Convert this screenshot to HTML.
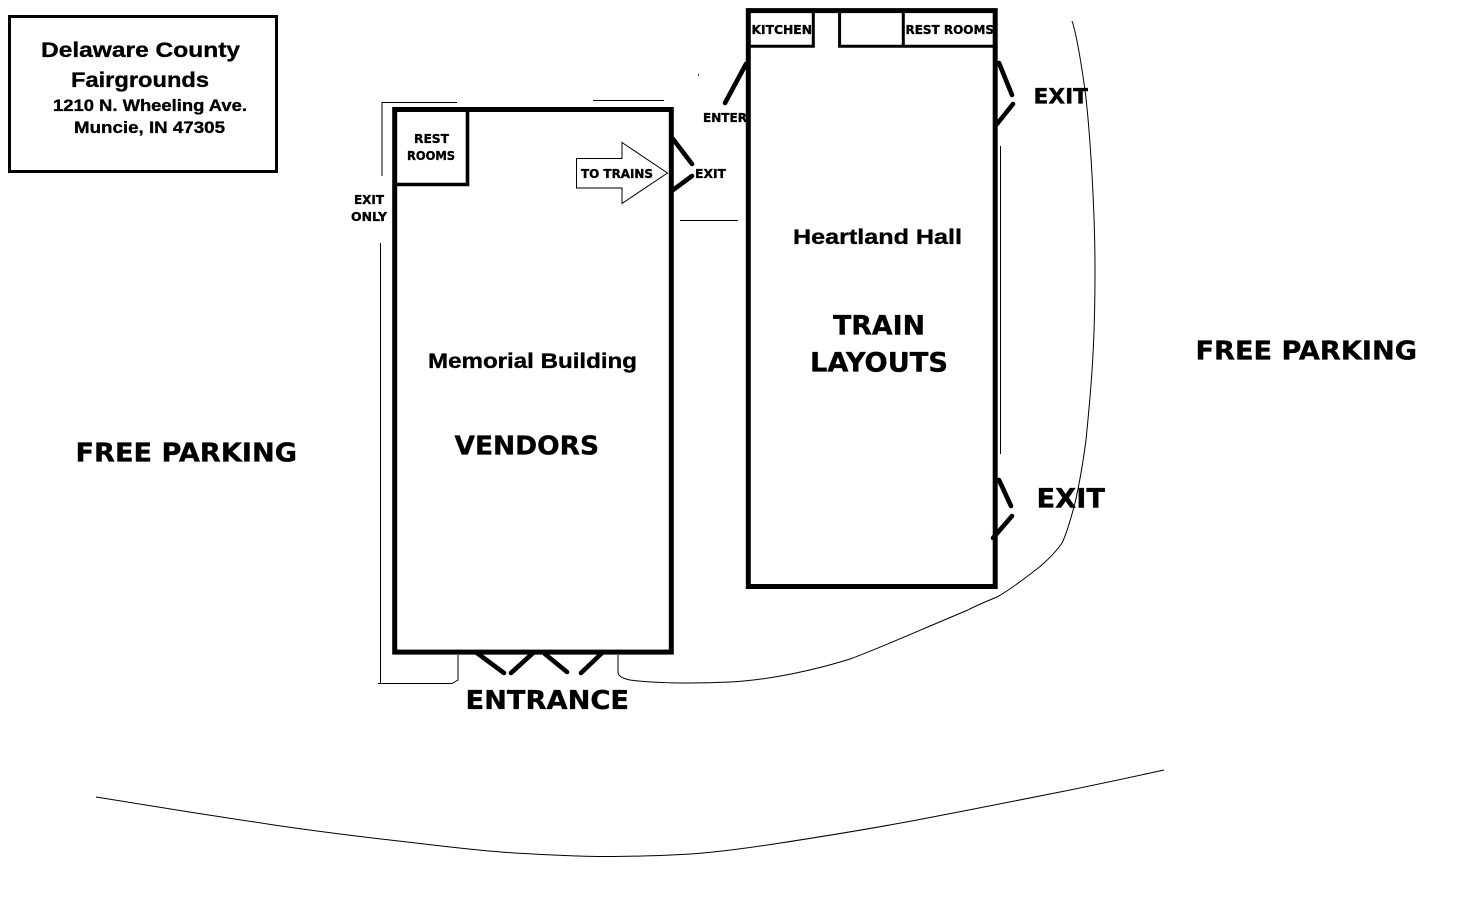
<!DOCTYPE html>
<html><head><meta charset="utf-8"><style>
html,body{margin:0;padding:0;background:#fff;width:1480px;height:909px;overflow:hidden}
svg{display:block}
text{fill:#000;font-weight:bold;stroke:#000;stroke-width:.35}
.d{font-family:"DejaVu Sans",sans-serif}
.l{font-family:"Liberation Sans",sans-serif}
.w{fill:none;stroke:#000}
.t{fill:none;stroke:#000;stroke-width:1}
.r{fill:none;stroke:#000;stroke-width:4.6;stroke-linecap:round}
</style></head><body>
<svg width="1480" height="909" viewBox="0 0 1480 909" xmlns="http://www.w3.org/2000/svg">
<rect x="9.5" y="16.5" width="267" height="155" class="w" stroke-width="3"/>
<text class="l" x="41" y="57" font-size="21.5" textLength="199" lengthAdjust="spacingAndGlyphs">Delaware County</text>
<text class="l" x="71" y="87" font-size="21.5" textLength="138" lengthAdjust="spacingAndGlyphs">Fairgrounds</text>
<text class="l" x="53" y="111" font-size="17" textLength="194" lengthAdjust="spacingAndGlyphs">1210 N. Wheeling Ave.</text>
<text class="l" x="74" y="133" font-size="17" textLength="151" lengthAdjust="spacingAndGlyphs">Muncie, IN 47305</text>

<rect x="394.7" y="109.5" width="276.6" height="542.6" class="w" stroke-width="5"/>
<path d="M395 184.5H467.5V110" class="w" stroke-width="3.6"/>
<rect x="748.3" y="10.6" width="246.9" height="575.9" class="w" stroke-width="5"/>
<path d="M750 46.3H813.3V12M997 46.3H839.6V12M903.3 12V46" class="w" stroke-width="3"/>

<path d="M576.5 158.5H622V142.5L667.5 173L622 203.5V188H576.5Z" fill="#fff" stroke="#000" stroke-width="1"/>

<path d="M673 139L692 164M673 190L692 176M746 64L725 103M999 63L1012 95M997 124L1013 104M999 480L1011 506M1012 516L993 538M477 653L504 673M533 653L511 673M545 654L567 672M602 653L581 673" class="r"/>

<path d="M382 176V102.5H457M593 100.5H664M680 220.5H738M1000.5 146V454M380.5 243V683.5M378 683.5H452L458 680V655" class="t"/>
<rect x="698" y="74" width="1" height="2" fill="#333"/>
<path d="M1072 21C1076 32 1080 55 1085 90C1090 130 1095 210 1095 270C1095 340 1092 380 1086 440C1082 470 1078 490 1075 503C1070 522 1066 535 1062 543C1055 553 1045 563 1033 572C1020 582 1008 591 997 597C985 602 975 606 968 610C920 630 880 648 850 659C815 670 770 680 730 682C690 684 650 683 630 680C620 678 618 675 618 672V655" class="t"/>
<path d="M96 797C126 802 226.5 818 274 825C321.5 832 345 834.7 381 839C417 843 456 848 489 851C522 854 552.5 855 578 856C603.5 857 621 856.5 642 856C663 855.5 681 855 703 853C725 851 738 849.5 774 844C810 838.5 869 829 917 820C965 811 1019 800 1060 792C1101 783.7 1147 773.7 1164 770" class="t"/>

<text class="d" x="414" y="143" font-size="12" textLength="35" lengthAdjust="spacingAndGlyphs">REST</text>
<text class="d" x="407" y="160" font-size="12" textLength="48" lengthAdjust="spacingAndGlyphs">ROOMS</text>
<text class="d" x="354" y="204" font-size="12" textLength="30" lengthAdjust="spacingAndGlyphs">EXIT</text>
<text class="d" x="351" y="221" font-size="12" textLength="36" lengthAdjust="spacingAndGlyphs">ONLY</text>
<text class="d" x="581" y="178" font-size="12" textLength="72" lengthAdjust="spacingAndGlyphs">TO TRAINS</text>
<text class="d" x="695" y="178" font-size="12" textLength="31" lengthAdjust="spacingAndGlyphs">EXIT</text>
<text class="d" x="703" y="122" font-size="12" textLength="44" lengthAdjust="spacingAndGlyphs">ENTER</text>
<text class="d" x="751.5" y="34" font-size="12" textLength="60.5" lengthAdjust="spacingAndGlyphs">KITCHEN</text>
<text class="d" x="905.5" y="34" font-size="12" textLength="88.5" lengthAdjust="spacingAndGlyphs">REST ROOMS</text>

<text class="l" x="428" y="368" font-size="21.5" textLength="209" lengthAdjust="spacingAndGlyphs">Memorial Building</text>
<text class="l" x="793" y="244" font-size="21.5" textLength="169" lengthAdjust="spacingAndGlyphs">Heartland Hall</text>
<text class="d" x="454.5" y="454.4" font-size="26" textLength="144.5" lengthAdjust="spacingAndGlyphs">VENDORS</text>
<text class="d" x="833" y="334.4" font-size="27" textLength="92" lengthAdjust="spacingAndGlyphs">TRAIN</text>
<text class="d" x="810" y="371.4" font-size="27" textLength="138" lengthAdjust="spacingAndGlyphs">LAYOUTS</text>
<text class="d" x="75.5" y="461.5" font-size="26" textLength="221.5" lengthAdjust="spacingAndGlyphs">FREE PARKING</text>
<text class="d" x="1195.5" y="359.4" font-size="26" textLength="221.5" lengthAdjust="spacingAndGlyphs">FREE PARKING</text>
<text class="d" x="465.5" y="709.2" font-size="25.5" textLength="163.5" lengthAdjust="spacingAndGlyphs">ENTRANCE</text>
<text class="d" x="1033.5" y="103.5" font-size="21" textLength="54.5" lengthAdjust="spacingAndGlyphs">EXIT</text>
<text class="d" x="1036.5" y="507.6" font-size="27" textLength="68.5" lengthAdjust="spacingAndGlyphs">EXIT</text>
</svg>
</body></html>
